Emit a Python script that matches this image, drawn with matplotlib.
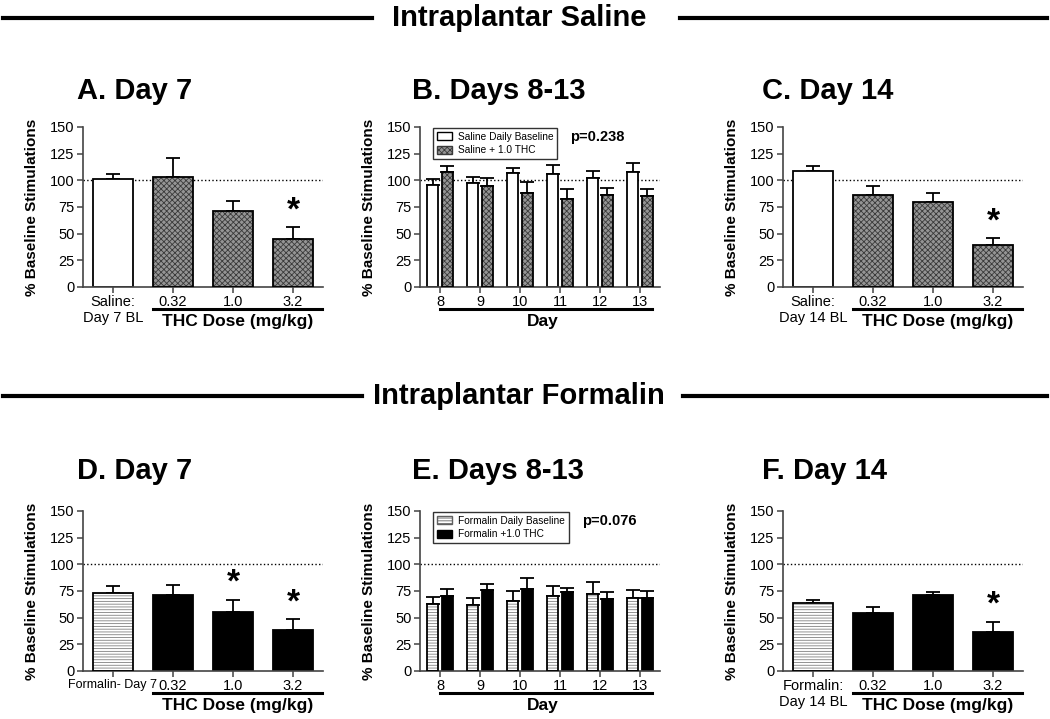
import matplotlib
matplotlib.use("Agg")
import matplotlib.pyplot as plt
import numpy as np
from matplotlib.patches import Patch

plt.rcParams['font.family'] = ['Liberation Sans', 'DejaVu Sans']
plt.rcParams['hatch.linewidth'] = 0.6

# ---------------- data ----------------
dose_labels_A = ["Saline:\nDay 7 BL", "0.32", "1.0", "3.2"]
dose_labels_C = ["Saline:\nDay 14 BL", "0.32", "1.0", "3.2"]
dose_labels_D = ["Formalin- Day 7", "0.32", "1.0", "3.2"]
dose_labels_F = ["Formalin:\nDay 14 BL", "0.32", "1.0", "3.2"]
days = ["8", "9", "10", "11", "12", "13"]

A_mean = [101, 103.5, 71, 45]
A_err = [5, 17.5, 9.5, 11]
A_sig = [False, False, False, True]

B_base_mean = [95.5, 97.5, 107, 105.5, 102, 107.5]
B_base_err = [5.5, 5.5, 5, 8.5, 7, 9]
B_thc_mean = [108, 94.5, 88, 82.5, 86, 85]
B_thc_err = [5, 8, 10, 9.5, 7, 7]

C_mean = [108.5, 86, 80, 39]
C_err = [4.5, 8.5, 8, 6.5]
C_sig = [False, False, False, True]

D_mean = [73.5, 71, 55, 38]
D_err = [6, 9.5, 12, 10.5]
D_sig = [False, False, True, True]

E_base_mean = [63, 62, 66, 70, 72.5, 68]
E_base_err = [6, 6, 9, 9.5, 10.5, 8]
E_thc_mean = [70, 76, 77, 74.5, 67.5, 68]
E_thc_err = [6.5, 5.5, 10.5, 3, 7, 7]

F_mean = [63.5, 54, 71, 37]
F_err = [3.5, 6, 3.5, 9]
F_sig = [False, False, False, True]

yticks = [0, 25, 50, 75, 100, 125, 150]

# ---------------- styles ----------------
W, H = 1050, 719
fig = plt.figure(figsize=(W / 100, H / 100), dpi=100)

CHECK_FC = '#959595'
CHECK_HC = '#3a3a3a'


def ax_at(x0, y0, x1, y1):
    return fig.add_axes([x0 / W, 1 - y1 / H, (x1 - x0) / W, (y1 - y0) / H])


def style_bar(ax, x, h, width, kind):
    if kind == 'white':
        ax.bar(x, h, width, facecolor='white', edgecolor='black', linewidth=1.3, zorder=2)
    elif kind == 'check':
        ax.bar(x, h, width, facecolor=CHECK_FC, edgecolor=CHECK_HC, hatch='xxxxxx',
               linewidth=0, zorder=2)
        ax.bar(x, h, width, fill=False, edgecolor='black', linewidth=1.3, zorder=3)
    elif kind == 'stripe':
        ax.bar(x, h, width, facecolor='white', edgecolor='#808080', hatch='------',
               linewidth=0, zorder=2)
        ax.bar(x, h, width, fill=False, edgecolor='black', linewidth=1.3, zorder=3)
    elif kind == 'black':
        ax.bar(x, h, width, facecolor='black', edgecolor='black', linewidth=1.3, zorder=2)


def errs(ax, x, m, e):
    ax.errorbar(x, m, yerr=[np.zeros(len(m)), e], fmt='none', ecolor='black',
                elinewidth=1.3, capsize=5, capthick=1.3, zorder=1)


def base_axes(ax, nx):
    ax.set_ylim(0, 150)
    ax.set_xlim(-0.5, nx - 0.5)
    ax.set_yticks(yticks)
    ax.set_yticklabels([str(t) for t in yticks], fontsize=10.5)
    for s in ['top', 'right']:
        ax.spines[s].set_visible(False)
    for s in ['left', 'bottom']:
        ax.spines[s].set_linewidth(1.2)
        ax.spines[s].set_color('#444444')
    ax.tick_params(axis='both', length=4, width=1.1, color='#444444', pad=2)
    ax.axhline(100, color='black', linestyle=':', linewidth=1.0, zorder=1.5)
    ax.set_ylabel('% Baseline Stimulations', fontsize=11, fontweight='bold', labelpad=8)


def title_at(x_px, base_px, title):
    fig.text(x_px / W, 1 - base_px / H, title, ha='left', va='baseline',
             fontsize=21, fontweight='bold')


def dose_panel(ax, means, errs_, labels, kinds, sig):
    x = np.arange(len(means))
    base_axes(ax, len(means))
    errs(ax, x, means, errs_)
    for xi, m, k in zip(x, means, kinds):
        style_bar(ax, xi, m, 0.667, k)
    ax.set_xticks(x)
    ax.set_xticklabels(labels, fontsize=10.5, linespacing=1.15)
    for xi, m, e, s in zip(x, means, errs_, sig):
        if s:
            ax.text(xi, m + e + 1, '*', ha='center', va='bottom', fontsize=24, fontweight='bold')
    tr = ax.get_xaxis_transform()
    ax.plot([0.67, 3.48], [-0.1375, -0.1375], color='black', linewidth=2.2,
            transform=tr, clip_on=False)
    ax.text(2.07, -0.215, 'THC Dose (mg/kg)', transform=tr, ha='center', va='center',
            fontsize=12.5, fontweight='bold')


def day_panel(ax, bm, be, tm, te, kinds, leg_labels, pval, px):
    x = np.arange(len(bm))
    base_axes(ax, len(bm))
    off = 0.185
    wd = 0.27
    errs(ax, x - off, bm, be)
    errs(ax, x + off, tm, te)
    for xi, m in zip(x, bm):
        style_bar(ax, xi - off, m, wd, kinds[0])
    for xi, m in zip(x, tm):
        style_bar(ax, xi + off, m, wd, kinds[1])
    ax.set_xticks(x)
    ax.set_xticklabels(days, fontsize=10.5)
    tr = ax.get_xaxis_transform()
    ax.plot([0.0, 5.3], [-0.1375, -0.1375], color='black', linewidth=2.2,
            transform=tr, clip_on=False)
    ax.text(2.58, -0.215, 'Day', transform=tr, ha='center', va='center',
            fontsize=12.5, fontweight='bold')
    handles = []
    for k, lab in zip(kinds, leg_labels):
        if k == 'white':
            handles.append(Patch(facecolor='white', edgecolor='black', label=lab))
        elif k == 'check':
            handles.append(Patch(facecolor=CHECK_FC, edgecolor=CHECK_HC, hatch='xxxxxx', label=lab))
        elif k == 'stripe':
            handles.append(Patch(facecolor='white', edgecolor='#606060', hatch='------', label=lab))
        else:
            handles.append(Patch(facecolor='black', edgecolor='black', label=lab))
    leg = ax.legend(handles=handles, loc='upper left', bbox_to_anchor=(0.035, 1.025),
                    fontsize=7.3, frameon=True, fancybox=False, handlelength=1.5,
                    handleheight=0.8, borderpad=0.35, labelspacing=0.35, handletextpad=0.6)
    leg.get_frame().set_edgecolor('black')
    leg.get_frame().set_linewidth(1.0)
    ax.text(px, 0.935, pval, transform=ax.transAxes, ha='left', va='center',
            fontsize=10.5, fontweight='bold')


top = (127, 287)
bot = (511, 671)

axA = ax_at(83, top[0], 323, top[1])
dose_panel(axA, A_mean, A_err, dose_labels_A, ['white', 'check', 'check', 'check'], A_sig)
title_at(77, 99, 'A. Day 7')

axB = ax_at(420, top[0], 660, top[1])
day_panel(axB, B_base_mean, B_base_err, B_thc_mean, B_thc_err, ['white', 'check'],
          ['Saline Daily Baseline', 'Saline + 1.0 THC'], 'p=0.238', 0.625)
title_at(412, 99, 'B. Days 8-13')

axC = ax_at(783, top[0], 1023, top[1])
dose_panel(axC, C_mean, C_err, dose_labels_C, ['white', 'check', 'check', 'check'], C_sig)
title_at(762, 99, 'C. Day 14')

axD = ax_at(83, bot[0], 323, bot[1])
dose_panel(axD, D_mean, D_err, dose_labels_D, ['stripe', 'black', 'black', 'black'], D_sig)
axD.get_xticklabels()[0].set_fontsize(9)
title_at(77, 479, 'D. Day 7')

axE = ax_at(420, bot[0], 660, bot[1])
day_panel(axE, E_base_mean, E_base_err, E_thc_mean, E_thc_err, ['stripe', 'black'],
          ['Formalin Daily Baseline', 'Formalin +1.0 THC'], 'p=0.076', 0.675)
title_at(412, 479, 'E. Days 8-13')

axF = ax_at(783, bot[0], 1023, bot[1])
dose_panel(axF, F_mean, F_err, dose_labels_F, ['stripe', 'black', 'black', 'black'], F_sig)
title_at(762, 479, 'F. Day 14')

# section headers
for ytxt, txt, lx1, rx0 in [(18, 'Intraplantar Saline', 372, 680),
                            (396, 'Intraplantar Formalin', 362, 683)]:
    yf = 1 - ytxt / H
    fig.text(519 / W, yf, txt, ha='center', va='center', fontsize=21,
             fontweight='bold')
    fig.add_artist(plt.Line2D([3 / W, lx1 / W], [yf, yf], color='black', linewidth=3))
    fig.add_artist(plt.Line2D([rx0 / W, 1047 / W], [yf, yf], color='black', linewidth=3))

fig.savefig('out.png', dpi=100)
